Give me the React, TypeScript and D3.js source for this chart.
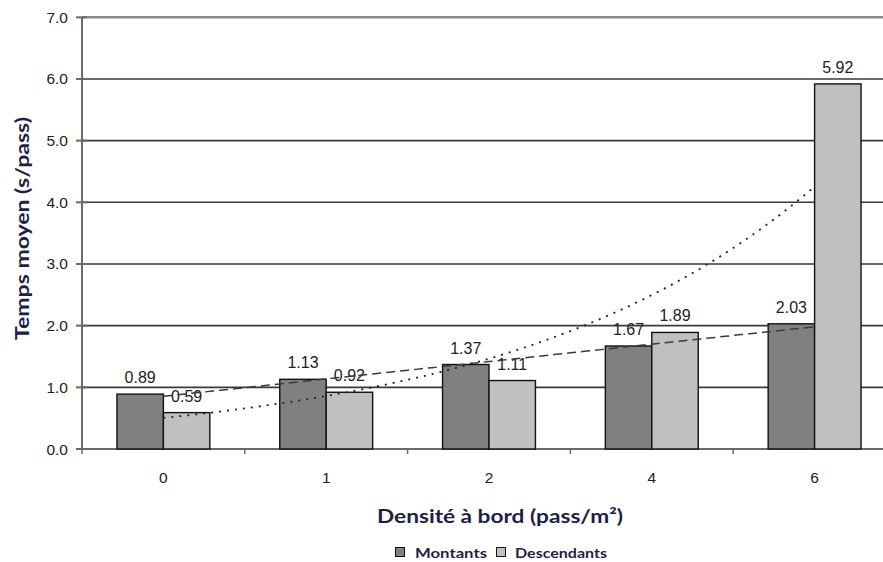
import React from "react";
import * as d3 from "d3";

const categories = ["0", "1", "2", "4", "6"];
const montants = [0.89, 1.13, 1.37, 1.67, 2.03];
const descendants = [0.59, 0.92, 1.11, 1.89, 5.92];
const yTicks = [0, 1, 2, 3, 4, 5, 6, 7];
const seriesNames = ["Montants", "Descendants"];
const seriesColors = ["#808080", "#c0c0c0"];

const W = 883;
const H = 562;
const left = 82;
const right = 896;
const top = 17.3;
const bottom = 449;

function linFit(ys: number[]) {
  const xs = ys.map((_, i) => i + 1);
  const mx = d3.mean(xs)!;
  const my = d3.mean(ys)!;
  let num = 0, den = 0;
  xs.forEach((x, i) => { num += (x - mx) * (ys[i] - my); den += (x - mx) ** 2; });
  const b = num / den;
  const a = my - b * mx;
  return (x: number) => a + b * x;
}

function expFit(ys: number[]) {
  const f = linFit(ys.map((v) => Math.log(v)));
  return (x: number) => Math.exp(f(x));
}

const numFont = "Liberation Sans, Arial, sans-serif";
const titleFont = "Lato, Open Sans, sans-serif";
const titleColor = "#1c1f4a";

export default function App() {
  const x0 = d3.scaleBand<string>().domain(categories).range([left, right]).paddingInner(70 / 163).paddingOuter(35 / 163);
  const x1 = d3.scaleBand<string>().domain(seriesNames).range([0, x0.bandwidth()]);
  const y = d3.scaleLinear().domain([0, 7]).range([bottom, top]);
  const step = x0.step();
  const center = (i: number) => x0(categories[i])! + x0.bandwidth() / 2;
  const posX = d3.scaleLinear().domain([1, 5]).range([center(0), center(4)]);

  const fM = linFit(montants);
  const fD = expFit(descendants);
  const samples = d3.range(1, 5.0001, 0.05);
  const pathM = d3.line<number>().x((p) => posX(p)).y((p) => y(fM(p)))(samples)!;
  const pathD = d3.line<number>().x((p) => posX(p)).y((p) => y(fD(p))).curve(d3.curveMonotoneX)(samples)!;

  const series = [montants, descendants];
  const boundaries = d3.range(categories.length + 1).map((i) => left + i * step);

  return (
    <svg width={W} height={H} style={{ position: "absolute", left: 0, top: 0, background: "#fff" }}>
      {yTicks.map((t) => (
        <line key={t} x1={left} x2={right} y1={y(t)} y2={y(t)}
          stroke={t === 7 ? "#8a8a8a" : "#3a3a3a"} strokeWidth={t === 7 ? 2.5 : 1.6} />
      ))}
      <line x1={left} x2={left} y1={top} y2={bottom} stroke="#6a6a6a" strokeWidth={2} />
      {yTicks.map((t) => (
        <g key={"yt" + t}>
          <line x1={left - 6} x2={left + 5} y1={y(t)} y2={y(t)} stroke="#6a6a6a" strokeWidth={2} />
          <text x={68} y={y(t) + 5.5} textAnchor="end" fontFamily={numFont}
            fontSize={15.5} fill="#222">{t.toFixed(1)}</text>
        </g>
      ))}
      {boundaries.map((b, i) => (
        <line key={"xb" + i} x1={b} x2={b} y1={bottom} y2={bottom + 5} stroke="#6a6a6a" strokeWidth={1.5} />
      ))}
      <line x1={left} x2={right} y1={bottom} y2={bottom} stroke="#6a6a6a" strokeWidth={2} />
      {categories.map((c) => (
        <text key={"xl" + c} x={x0(c)! + x0.bandwidth() / 2} y={483} textAnchor="middle"
          fontFamily={numFont} fontSize={15.5} fill="#222">{c}</text>
      ))}
      {categories.map((c, i) => (
        <g key={"g" + c} transform={`translate(${x0(c)},0)`}>
          {series.map((s, k) => (
            <rect key={k} x={x1(seriesNames[k])!} y={y(s[i])} width={x1.bandwidth()} height={bottom - y(s[i])}
              fill={seriesColors[k]} stroke="#111" strokeWidth={1.4} />
          ))}
        </g>
      ))}
      {categories.map((c, i) => (
        <g key={"l" + c}>
          {series.map((s, k) => (
            <text key={k} x={x0(c)! + x1(seriesNames[k])! + x1.bandwidth() / 2} y={y(s[i]) - 11}
              textAnchor="middle" fontFamily={numFont} fontSize={16} fill="#222">
              {s[i].toFixed(2)}
            </text>
          ))}
        </g>
      ))}
      <path d={pathM} fill="none" stroke="#3a3a3a" strokeWidth={1.5} strokeDasharray="9,5" />
      <path d={pathD} fill="none" stroke="#222" strokeWidth={1.8} strokeDasharray="2,6" />
      <text transform={`translate(29,228.5) rotate(-90)`} textAnchor="middle" fontFamily={titleFont}
        fontWeight="bold" fontSize={19} fill={titleColor} textLength={223} lengthAdjust="spacingAndGlyphs">Temps moyen (s/pass)</text>
      <text x={500} y={523} textAnchor="middle" fontFamily={titleFont} fontWeight="bold"
        fontSize={19} fill={titleColor} textLength={246} lengthAdjust="spacingAndGlyphs">Densité à bord (pass/m²)</text>
      <rect x={395.5} y={547.5} width={9} height={9} fill={seriesColors[0]} stroke="#111" strokeWidth={1} />
      <text x={415} y={557.5} fontFamily={titleFont} fontWeight="bold" fontSize={12.5} fill={titleColor}
        textLength={72} lengthAdjust="spacingAndGlyphs">{seriesNames[0]}</text>
      <rect x={496.5} y={547.5} width={9} height={9} fill={seriesColors[1]} stroke="#111" strokeWidth={1} />
      <text x={515} y={557.5} fontFamily={titleFont} fontWeight="bold" fontSize={12.5} fill={titleColor}
        textLength={92} lengthAdjust="spacingAndGlyphs">{seriesNames[1]}</text>
    </svg>
  );
}
